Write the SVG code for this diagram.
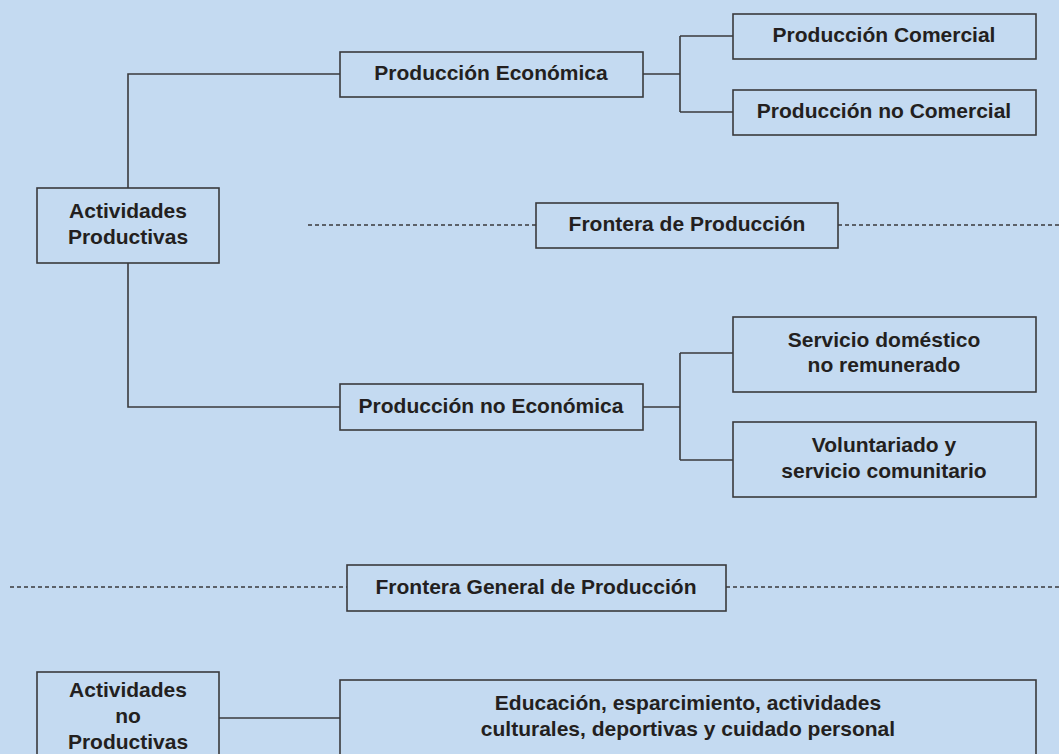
<svg xmlns="http://www.w3.org/2000/svg" width="1059" height="754" viewBox="0 0 1059 754">
<style>
.box{fill:#c4daf1;stroke:#3a3a3d;stroke-width:1.6}
.t{font-family:"Liberation Sans",Arial,sans-serif;font-weight:bold;font-size:21px;fill:#231f20;text-anchor:middle}
.ln{fill:none;stroke:#3a3a3d;stroke-width:1.6}
.dash{fill:none;stroke:#3a3a3d;stroke-width:1.3;stroke-dasharray:4 3}
</style>
<rect x="0" y="0" width="1059" height="754" fill="#c4daf1"/>
<g id="connectors">
<path class="ln" d="M128 188 V74 H340"/>
<path class="ln" d="M128 263 V407 H340"/>
<path class="ln" d="M643 74 H680 M680 36 V112 M680 36 H733 M680 112 H733"/>
<path class="ln" d="M643 407 H680 M680 353 V460 M680 353 H733 M680 460 H733"/>
<path class="ln" d="M219 718 H340"/>
<path class="dash" d="M308 225 H536 M838 225 H1059"/>
<path class="dash" d="M10 587 H347 M726 587 H1059"/>
</g>
<g id="actividades-productivas">
<rect class="box" x="37" y="188" width="182" height="75"/>
<text class="t" x="128" y="218">Actividades</text>
<text class="t" x="128" y="244">Productivas</text>
</g>
<g id="produccion-economica">
<rect class="box" x="340" y="52" width="303" height="45"/>
<text class="t" x="491" y="80">Producción Económica</text>
</g>
<g id="produccion-comercial">
<rect class="box" x="733" y="14" width="303" height="45"/>
<text class="t" x="884" y="42">Producción Comercial</text>
</g>
<g id="produccion-no-comercial">
<rect class="box" x="733" y="90" width="303" height="45"/>
<text class="t" x="884" y="118">Producción no Comercial</text>
</g>
<g id="frontera-produccion">
<rect class="box" x="536" y="203" width="302" height="45"/>
<text class="t" x="687" y="231">Frontera de Producción</text>
</g>
<g id="servicio-domestico">
<rect class="box" x="733" y="317" width="303" height="75"/>
<text class="t" x="884" y="347">Servicio doméstico</text>
<text class="t" x="884" y="372">no remunerado</text>
</g>
<g id="produccion-no-economica">
<rect class="box" x="340" y="384" width="303" height="46"/>
<text class="t" x="491" y="413">Producción no Económica</text>
</g>
<g id="voluntariado">
<rect class="box" x="733" y="422" width="303" height="75"/>
<text class="t" x="884" y="452">Voluntariado y</text>
<text class="t" x="884" y="478">servicio comunitario</text>
</g>
<g id="frontera-general">
<rect class="box" x="347" y="565" width="379" height="46"/>
<text class="t" x="536" y="594">Frontera General de Producción</text>
</g>
<g id="actividades-no-productivas">
<rect class="box" x="37" y="672" width="182" height="90"/>
<text class="t" x="128" y="697">Actividades</text>
<text class="t" x="128" y="723">no</text>
<text class="t" x="128" y="749">Productivas</text>
</g>
<g id="educacion">
<rect class="box" x="340" y="680" width="696" height="90"/>
<text class="t" x="688" y="710">Educación, esparcimiento, actividades</text>
<text class="t" x="688" y="736">culturales, deportivas y cuidado personal</text>
</g>
</svg>
